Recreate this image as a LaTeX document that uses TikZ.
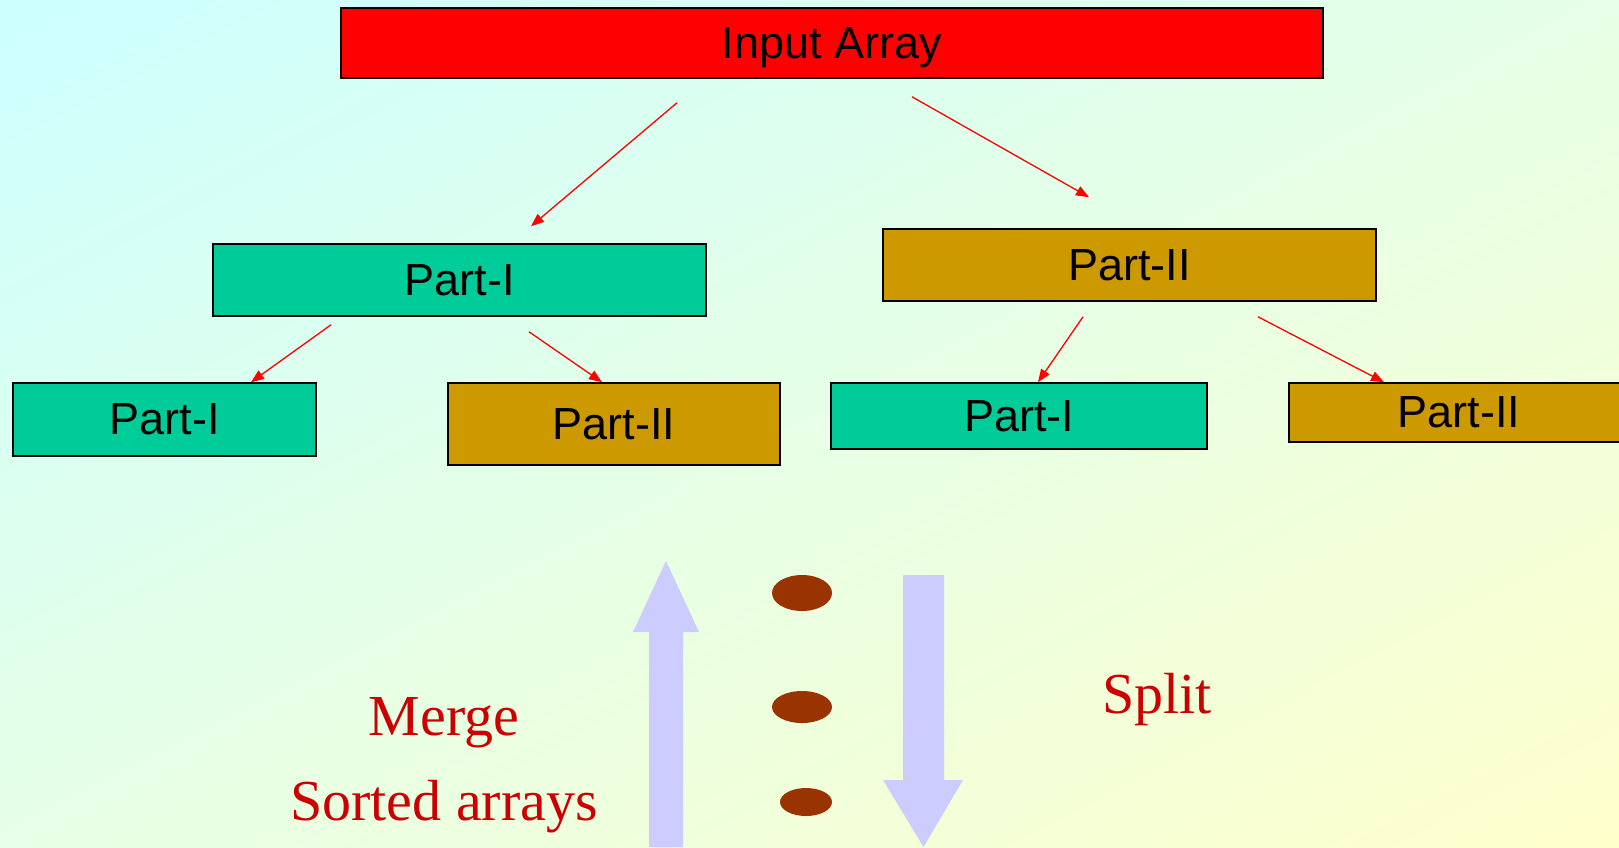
\documentclass[tikz,border=0pt]{standalone}
\usepackage{xcolor}
\usepackage{fontspec}
\setmainfont{Liberation Serif}
\setsansfont{Liberation Sans}
\usepackage{tikz}
\usetikzlibrary{arrows.meta,positioning,calc,shadings}
\definecolor{bgcyan}{HTML}{CCFFFF}
\definecolor{bgmint}{HTML}{E6FFE6}
\definecolor{bgyellow}{HTML}{FFFFCC}
\definecolor{inred}{HTML}{FF0000}
\definecolor{partone}{HTML}{00CC99}
\definecolor{parttwo}{HTML}{CC9900}
\definecolor{lavender}{HTML}{CCCCFF}
\definecolor{dotbrown}{HTML}{993300}
\definecolor{labelred}{HTML}{CC0000}

\begin{document}
\begin{tikzpicture}[x=1pt, y=-1pt,
    box/.style={rectangle, draw=black, line width=1.6pt, inner sep=0pt, text=black,
        font=\sffamily\fontsize{45}{50}\selectfont},
    inbox/.style={box, fill=inred, minimum width=982pt, minimum height=70pt, text depth=0pt},
    onebox/.style={box, fill=partone},
    twobox/.style={box, fill=parttwo},
    split/.style={draw=inred, line width=1.3pt, -{Triangle[length=13pt,width=10pt]}},
    dot/.style={fill=dotbrown},
    note/.style={text=labelred, font=\fontsize{58}{64}\selectfont, inner sep=0pt}
]
    % background
    \clip (0,0) rectangle (1619,847);
    \shade[upper left=bgcyan, upper right=bgmint, lower left=bgmint, lower right=bgyellow]
        (0,0) rectangle (1619,847);

    % the array and its parts
    \node[inbox] (in) at (832,43) {Input Array};
    \node[onebox, minimum width=493pt, minimum height=72pt] (p1) at (459.5,280) {Part-I};
    \node[twobox, minimum width=493pt, minimum height=72pt] (p2) at (1129.5,265) {Part-II};

    \node[onebox, minimum width=303pt, minimum height=73pt] (p11) at (164.5,419.5) {Part-I};
    \node[twobox, minimum width=332pt, minimum height=82pt] (p12) at (614,424) {Part-II};
    \node[onebox, minimum width=376pt, minimum height=66pt] (p21) at (1019,416) {Part-I};
    \node[twobox, minimum width=340pt, minimum height=59pt] (p22) at (1459,412.5) {Part-II};

    \draw[split] ([shift={(-155,24)}]in.south) -- ([shift={(71.5,-17)}]p1.north);
    \draw[split] ([shift={(80,18)}]in.south) -- ([shift={(-40.5,-31)}]p2.north);
    \draw[split] ([shift={(-128.5,8)}]p1.south) -- ([shift={(86.5,0)}]p11.north);
    \draw[split] ([shift={(69.5,15)}]p1.south) -- ([shift={(-12,0)}]p12.north);
    \draw[split] ([shift={(-46.5,15)}]p2.south) -- ([shift={(19,0)}]p21.north);
    \draw[split] ([shift={(128.5,15)}]p2.south) -- ([shift={(-75,0)}]p22.north);

    % merge (up) and split (down)
    \fill[lavender] (649,847) -- (649,632) -- (633,632) -- (666,561) -- (699,632)
        -- (683,632) -- (683,847) -- cycle;
    \fill[lavender] (903,575) -- (944,575) -- (944,780) -- (963,780) -- (923.5,847)
        -- (883,780) -- (903,780) -- cycle;

    \fill[dot] (802,593) ellipse [x radius=30, y radius=18];
    \fill[dot] (802,707) ellipse [x radius=30, y radius=16];
    \fill[dot] (806,802) ellipse [x radius=26, y radius=14];

    \node[note] (merge) at (444,723) {Merge};
    \node[note] (sorted) at (444,807) {Sorted arrays};
    \node[note] (split) at (1157,700) {Split};
\end{tikzpicture}
\end{document}
